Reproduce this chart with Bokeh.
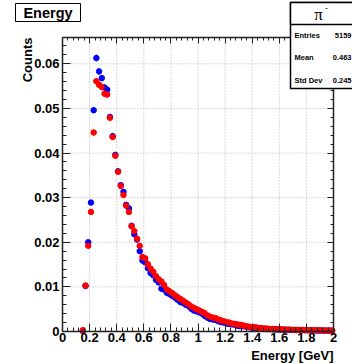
import numpy as np
from bokeh.plotting import figure
from bokeh.models import FixedTicker, LinearAxis, Range1d, Label, BoxAnnotation, ColumnDataSource
from bokeh.embed import file_html
from bokeh.resources import INLINE

# ---------------- data ----------------
bin_low = 0.14
bin_width = 0.02
n_bins = 93
energy = [round(bin_low + bin_width * (i + 0.5), 3) for i in range(n_bins)]

counts_blue = [
    0.0001, 0.0102, 0.0200, 0.0289, 0.0496, 0.0613, 0.0583, 0.0568, 0.0547, 0.0542,
    0.0481, 0.0438, 0.0396, 0.0359, 0.0328, 0.0313, 0.0284, 0.0276, 0.0237, 0.0218,
    0.0206, 0.0180, 0.0159, 0.0155, 0.0142, 0.0131, 0.0126, 0.0116, 0.0110, 0.0096,
    0.0094, 0.0087, 0.0084, 0.0080, 0.0076, 0.0071, 0.0066, 0.0064, 0.0060, 0.0057,
    0.0051, 0.0047, 0.0045, 0.0043, 0.0040, 0.0035, 0.0031, 0.0028, 0.0027, 0.0026,
    0.0023, 0.0021, 0.0020, 0.0018, 0.0017, 0.0016, 0.0015, 0.0013, 0.0012, 0.0012,
    0.0011, 0.0010, 0.0009, 0.0008, 0.0008, 0.0007, 0.0007, 0.0006, 0.00055, 0.00052,
    0.00050, 0.00046, 0.00045, 0.00042, 0.00040, 0.00039, 0.00036, 0.00035, 0.00033, 0.00032,
    0.00030, 0.00029, 0.00027, 0.00026, 0.00025, 0.00024, 0.00023, 0.00022, 0.00021, 0.00020,
    0.00019, 0.00018, 0.00017,
]
counts_red = [
    0.0003, 0.0103, 0.0192, 0.0268, 0.0446, 0.0561, 0.0553, 0.0548, 0.0533, 0.0531,
    0.0479, 0.0436, 0.0394, 0.0358, 0.0326, 0.0306, 0.0282, 0.0268, 0.0236, 0.0225,
    0.0208, 0.0192, 0.0167, 0.0164, 0.0151, 0.0141, 0.0134, 0.0124, 0.0117, 0.0112,
    0.0104, 0.0094, 0.0090, 0.0086, 0.0081, 0.0077, 0.0073, 0.0069, 0.0065, 0.0061,
    0.0056, 0.0053, 0.0050, 0.0047, 0.0044, 0.0041, 0.0036, 0.0033, 0.0031, 0.0030,
    0.0027, 0.0025, 0.0023, 0.0021, 0.0020, 0.0018, 0.0017, 0.0016, 0.0015, 0.0014,
    0.0012, 0.0011, 0.0010, 0.0010, 0.0009, 0.0008, 0.0007, 0.0007, 0.00065, 0.00060,
    0.00058, 0.00055, 0.00050, 0.00048, 0.00046, 0.00044, 0.00042, 0.00040, 0.00038, 0.00036,
    0.00035, 0.00033, 0.00032, 0.00030, 0.00029, 0.00028, 0.00026, 0.00025, 0.00024, 0.00023,
    0.00022, 0.00021, 0.00020,
]
n_effective = 110000  # statistical weight used for the error bars

x_ticks = [0, 0.2, 0.4, 0.6, 0.8, 1.0, 1.2, 1.4, 1.6, 1.8, 2.0]
x_tick_labels = ["0", "0.2", "0.4", "0.6", "0.8", "1", "1.2", "1.4", "1.6", "1.8", "2"]
y_ticks = [0, 0.01, 0.02, 0.03, 0.04, 0.05, 0.06]
y_tick_labels = ["0", "0.01", "0.02", "0.03", "0.04", "0.05", "0.06"]

title_text = "Energy"
x_label = "Energy [GeV]"
y_label = "Counts"
stats_title = "\u03c0"
stats_rows = [("Entries", "5159"), ("Mean", "0.463"), ("Std Dev", "0.245")]

# ---------------- layout ----------------
W, H = 352, 364
PX_L, PX_R, PX_T, PX_B = 62, 333, 37, 331   # where the axes box sits on the canvas
X_MAX = 2.0
Y_MAX = 0.0659
SX = X_MAX / (PX_R - PX_L)
SY = Y_MAX / (PX_B - PX_T)

def xd(px):
    return (px - PX_L) * SX

def yd(py):
    return (PX_B - py) * SY

FONT = "Liberation Sans"
AX_COL = "#222222"

p = figure(width=W, height=H, title=None,
           x_range=Range1d(xd(0), xd(W)), y_range=Range1d(yd(H), yd(0)),
           x_axis_type=None, y_axis_type=None,
           output_backend="svg", toolbar_location=None,
           min_border=0, min_border_left=0, min_border_right=0,
           min_border_top=0, min_border_bottom=0,
           background_fill_color="white", border_fill_color="white",
           outline_line_color=None)

x_minor = [round(0.04 * i, 2) for i in range(51)]
y_minor = [round(0.002 * i, 3) for i in range(33)]

# ---------------- grid (dotted, only inside the axes box) ----------------
gx = [t for t in x_ticks if 0 < t < X_MAX]
gy = [t for t in y_ticks if 0 < t]
p.segment(x0=gx, y0=[0] * len(gx), x1=gx, y1=[Y_MAX] * len(gx),
          line_color="#b4b4b4", line_dash="1 2", line_width=1)
p.segment(x0=[0] * len(gy), y0=gy, x1=[X_MAX] * len(gy), y1=gy,
          line_color="#b4b4b4", line_dash="1 2", line_width=1)

# ---------------- axes ----------------
ax_b = LinearAxis(fixed_location=0, bounds=(0, X_MAX),
                  ticker=FixedTicker(ticks=x_ticks, minor_ticks=x_minor))
ax_t = LinearAxis(fixed_location=Y_MAX, bounds=(0, X_MAX),
                  ticker=FixedTicker(ticks=x_ticks, minor_ticks=x_minor))
ax_l = LinearAxis(fixed_location=0, bounds=(0, Y_MAX),
                  ticker=FixedTicker(ticks=y_ticks, minor_ticks=y_minor))
ax_r = LinearAxis(fixed_location=X_MAX, bounds=(0, Y_MAX),
                  ticker=FixedTicker(ticks=y_ticks, minor_ticks=y_minor))
p.add_layout(ax_b, "below")
p.add_layout(ax_t, "above")
p.add_layout(ax_l, "left")
p.add_layout(ax_r, "right")

for ax in (ax_b, ax_t, ax_l, ax_r):
    ax.major_tick_in = 8
    ax.major_tick_out = 0
    ax.minor_tick_in = 4
    ax.minor_tick_out = 0
    ax.axis_line_color = AX_COL
    ax.axis_line_width = 1.5
    ax.major_tick_line_color = AX_COL
    ax.minor_tick_line_color = AX_COL
    ax.major_label_text_font = FONT
    ax.major_label_text_font_style = "bold"
    ax.major_label_text_font_size = "13px"
    ax.major_label_text_color = "black"

ax_b.major_label_overrides = {t: s for t, s in zip(x_ticks, x_tick_labels)}
ax_l.major_label_overrides = {t: s for t, s in zip(y_ticks, y_tick_labels)}
ax_t.major_label_overrides = {t: "" for t in x_ticks}
ax_r.major_label_overrides = {t: "" for t in y_ticks}
ax_b.major_label_standoff = 1
ax_l.major_label_standoff = 3
for ax in (ax_t, ax_r):
    ax.major_tick_in = 6
    ax.minor_tick_in = 3

# ---------------- data marks ----------------
for vals, col in ((counts_blue, "#0000ff"), (counts_red, "#ff0000")):
    v = np.array(vals)
    err = np.sqrt(v / n_effective)
    src = ColumnDataSource(dict(x=energy, y=vals, lo=list(v - err), hi=list(v + err)))
    p.segment(x0="x", y0="lo", x1="x", y1="hi", source=src, line_color=col, line_width=1)
    p.scatter(x="x", y="y", source=src, size=5.5, marker="circle",
              fill_color=col, line_color=col)

# ---------------- axis titles ----------------
p.add_layout(Label(x=X_MAX, y=0, text=x_label, text_align="right", text_baseline="alphabetic",
                   y_offset=-24, text_font=FONT, text_font_style="bold",
                   text_font_size="13px", text_color="black"))
p.add_layout(Label(x=0, y=Y_MAX, text=y_label, text_align="right", text_baseline="alphabetic",
                   angle=np.pi / 2, x_offset=-35, text_font=FONT, text_font_style="bold",
                   text_font_size="13px", text_color="black"))

# ---------------- title box ----------------
p.add_layout(BoxAnnotation(left=xd(15), right=xd(80), top=yd(3), bottom=yd(21),
                           fill_color="white", fill_alpha=1, line_color="black",
                           line_width=1, line_alpha=1, level="overlay"))
p.add_layout(Label(x=xd(47.5), y=yd(12.5), text=title_text, text_align="center",
                   text_baseline="middle", text_font=FONT, text_font_style="bold",
                   text_font_size="14.5px", text_color="black", level="overlay"))

# ---------------- stats box ----------------
p.add_layout(BoxAnnotation(left=xd(290), right=xd(365), top=yd(2), bottom=yd(88),
                           fill_color="white", fill_alpha=1, line_color="black",
                           line_width=1.5, line_alpha=1, level="overlay"))
p.add_layout(BoxAnnotation(left=xd(290), right=xd(365), top=yd(2), bottom=yd(24),
                           fill_color="white", fill_alpha=1, line_color="black",
                           line_width=1.5, line_alpha=1, level="overlay"))
p.add_layout(Label(x=xd(318), y=yd(14), text=stats_title, text_align="center",
                   text_baseline="middle", text_font="Liberation Serif",
                   text_font_size="17px", text_color="black", level="overlay"))
p.add_layout(Label(x=xd(326), y=yd(7), text="-", text_align="center",
                   text_baseline="middle", text_font="Liberation Serif",
                   text_font_size="9px", text_color="black", level="overlay"))
row_y = [35, 57, 80]
for (name, val), ry in zip(stats_rows, row_y):
    p.add_layout(Label(x=xd(294), y=yd(ry), text=name, text_align="left",
                       text_baseline="middle", text_font=FONT, text_font_style="bold",
                       text_font_size="7.5px", text_color="black", level="overlay"))
    p.add_layout(Label(x=xd(351), y=yd(ry), text=val, text_align="right",
                       text_baseline="middle", text_font=FONT, text_font_style="bold",
                       text_font_size="7.5px", text_color="black", level="overlay"))

open("out.html", "w").write(file_html(p, INLINE))
